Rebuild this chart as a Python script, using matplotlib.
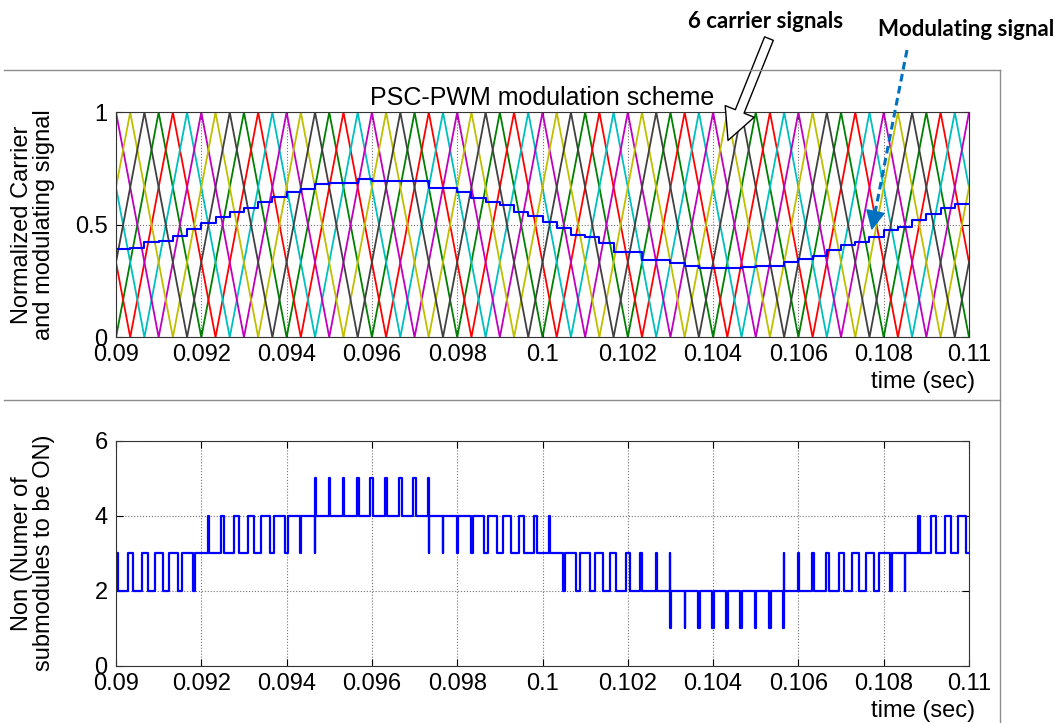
import matplotlib.pyplot as plt
import numpy as np

plt.rcParams['font.family'] = ['Liberation Sans', 'DejaVu Sans']

# time window shown
t_start = 0.09
t_end = 0.11
x_ticks = [0.09, 0.092, 0.094, 0.096, 0.098, 0.1, 0.102, 0.104, 0.106, 0.108, 0.11]
x_tick_labels = ['0.09', '0.092', '0.094', '0.096', '0.098', '0.1',
                 '0.102', '0.104', '0.106', '0.108', '0.11']

# 6 phase shifted triangular carriers
carrier_freq = 500.0
carrier_colors = [(0, 0.5, 0), (1, 0, 0), (0, 0.75, 0.75),
                  (0.75, 0, 0.75), (0.75, 0.75, 0), (0.25, 0.25, 0.25)]
carrier_peak_slot = [3, 4, 5, 0, 1, 2]   # peak position in sixths of a period, counted from t_start

# modulating signal, one held value per sixth of a carrier period
mod_levels = [0.391, 0.398, 0.425, 0.430, 0.450, 0.480, 0.510, 0.533, 0.555, 0.576,
              0.600, 0.625, 0.645, 0.658, 0.680, 0.687, 0.687, 0.702, 0.695, 0.695,
              0.695, 0.695, 0.664, 0.664, 0.647, 0.618, 0.600, 0.588, 0.558, 0.537,
              0.514, 0.484, 0.455, 0.444, 0.418, 0.380, 0.380, 0.343, 0.343, 0.330,
              0.317, 0.309, 0.309, 0.309, 0.311, 0.317, 0.317, 0.336, 0.347, 0.361,
              0.388, 0.410, 0.425, 0.447, 0.477, 0.492, 0.521, 0.548, 0.573, 0.592]

slot = 1.0 / (6 * carrier_freq)
n_slots = len(mod_levels)

W, H = 1061, 723
fig = plt.figure(figsize=(W / 100, H / 100), dpi=100)
ax1 = fig.add_axes([116 / W, 1 - 337.3 / H, 853 / W, 225 / H])
ax2 = fig.add_axes([116 / W, 1 - 665.7 / H, 853 / W, 225 / H])

# carriers as triangle vertices
carriers = []
for c, ps in enumerate(carrier_peak_slot):
    s = np.arange(ps - 6, n_slots + 7, 3)
    tv = t_start + s * slot
    yv = np.where((s - ps) % 6 == 0, 1.0, 0.0)
    carriers.append((tv, yv))
    ax1.plot(tv, yv, color=carrier_colors[c], lw=1.3)

# modulating staircase
t_mod = t_start + np.arange(n_slots + 1) * slot
ax1.step(t_mod, mod_levels + [mod_levels[-1]], where='post', color='blue', lw=1.5)

# number of submodules on = carriers below the modulating signal
t = np.linspace(t_start, t_end, 400001)
idx = np.minimum(((t - t_start) / slot).astype(int), n_slots - 1)
m = np.array(mod_levels)[idx]
non = np.zeros_like(t)
for tv, yv in carriers:
    non += (m > np.interp(t, tv, yv))
keep = np.concatenate(([True], np.diff(non) != 0))
keep[-1] = True
ax2.step(t[keep], non[keep], where='post', color='blue', lw=1.6)

for ax in (ax1, ax2):
    ax.set_xlim(t_start, t_end)
    ax.set_xticks(x_ticks)
    ax.set_xticklabels(x_tick_labels)
    ax.grid(True, linestyle=':', color='0.45', lw=0.8)
    ax.tick_params(direction='in', top=True, right=True, length=5, labelsize=17)
    ax.tick_params(axis='x', pad=5)
    ax.tick_params(axis='y', pad=6)
    for sp in ax.spines.values():
        sp.set_color('0.2')
    ax.text(1.007, -0.2, 'time (sec)', transform=ax.transAxes, ha='right', va='center', fontsize=17)

ax1.set_ylim(0, 1)
ax1.set_yticks([0, 0.5, 1])
ax1.set_yticklabels(['0', '0.5', '1'])
ax1.set_title('PSC-PWM modulation scheme', fontsize=18, pad=5)
ax1.set_ylabel('Normalized Carrier\nand modulating signal', fontsize=17, linespacing=1.0)
ax1.yaxis.set_label_coords(-0.072, 0.5)

ax2.set_ylim(0, 6)
ax2.set_yticks([0, 2, 4, 6])
ax2.set_ylabel('Non (Numer of\nsubmodules to be ON)', fontsize=17, linespacing=1.0)
ax2.yaxis.set_label_coords(-0.072, 0.5)

# frame lines around the figure panels
for (x0, y0, x1, y1) in [(4, 70, 1000, 70), (4, 400, 1000, 400), (1000, 70, 1000, 723)]:
    fig.add_artist(plt.Line2D([x0 / W, x1 / W], [1 - y0 / H, 1 - y1 / H],
                              color='0.55', lw=1.0, transform=fig.transFigure))

# annotations
fig.text(766 / W, 1 - 22 / H, '6 carrier signals', ha='center', va='center',
         fontsize=16, fontweight='bold', family=['Lato', 'DejaVu Sans'])
fig.text(966 / W, 1 - 30 / H, 'Modulating signal', ha='center', va='center',
         fontsize=16, fontweight='bold', family=['Lato', 'DejaVu Sans'])

fig.add_artist(plt.matplotlib.patches.FancyArrowPatch(
    (770, H - 36), (727, H - 143), transform=None,
    arrowstyle='simple,head_length=1.5,head_width=1.5,tail_width=0.45',
    mutation_scale=15, fc='white', ec='black', lw=1.0))
fig.add_artist(plt.Line2D([907, 874], [H - 50, H - 218], transform=None,
                          color='#0070C0', lw=2.2, linestyle=(0, (2.5, 1.5))))
fig.add_artist(plt.matplotlib.patches.FancyArrowPatch(
    (875, H - 214), (871, H - 233), transform=None,
    arrowstyle='-|>,head_length=0.9,head_width=0.45',
    mutation_scale=14, fc='#0070C0', ec='#0070C0', lw=1.0))

fig.savefig('out.png', dpi=100)
